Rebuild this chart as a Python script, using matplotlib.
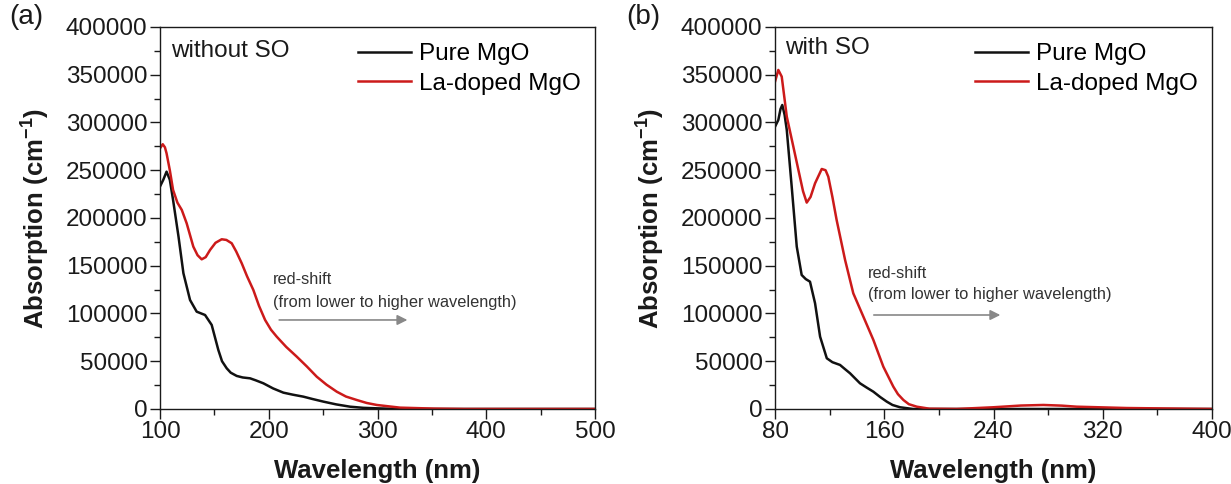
import matplotlib
matplotlib.use("Agg")
import matplotlib.pyplot as plt
from matplotlib.ticker import MultipleLocator

plt.rcParams['font.family'] = ['Liberation Sans', 'DejaVu Sans']
plt.rcParams['mathtext.fontset'] = 'custom'
plt.rcParams['mathtext.rm'] = 'Liberation Sans'
plt.rcParams['mathtext.bf'] = 'Liberation Sans:bold'

# ---- Panel (a): without SO ----
wl_a_pure = [100, 103, 106, 109, 112, 117, 121.5, 127.6, 133.7, 141.4, 147.5, 153.6, 157,
             161.3, 165, 170.5, 176, 182.8, 188, 195, 204, 213.4, 222, 231.8, 240, 250.2,
             262, 274.7, 287, 299, 320, 400, 500]
abs_a_pure = [233000, 240000, 248500, 240000, 218800, 180400, 142100, 114100, 101900, 98400,
              88000, 61800, 50000, 42600, 38000, 34600, 33000, 32100, 30000, 26900, 21500,
              17100, 15000, 12900, 10500, 7700, 4800, 2400, 1200, 700, 0, 0, 0]
wl_a_la = [100, 102.5, 104.5, 106, 109, 112, 116, 120, 124.5, 130.6, 134.5, 138.3, 142,
           146, 151, 156.7, 161, 165.9, 170, 175.1, 180, 185.8, 191, 196.6, 202, 207.3, 216,
           225.7, 235, 244.1, 253, 262.5, 271, 280.9, 290, 299.3, 320.7, 352, 380, 500]
abs_a_la = [273000, 277200, 274000, 267700, 250000, 229300, 216000, 208400, 194400, 170000,
            161000, 156700, 159000, 166500, 174000, 177700, 177000, 173500, 165000, 152600,
            139000, 124600, 108000, 93200, 83000, 75700, 65000, 54800, 44500, 33800, 25500,
            18100, 13000, 9400, 6300, 4200, 1400, 400, 0, 0]

# ---- Panel (b): with SO ----
wl_b_pure = [80, 82.4, 84, 85.3, 87, 88.6, 92.2, 95.9, 99.5, 102.5, 105.6, 109.3, 113,
             117.9, 122, 127.6, 131, 134.9, 142.2, 147, 152, 157, 161.8, 166, 171.5, 181,
             400]
abs_b_pure = [295600, 302600, 314000, 318300, 308000, 292100, 232800, 170000, 140300,
              136000, 133300, 110700, 75700, 53100, 49000, 46100, 42000, 37400, 26900,
              22500, 18100, 12500, 7700, 4200, 1800, 0, 0]
wl_b_la = [80, 82.4, 84.9, 88.6, 93.4, 97.1, 100.5, 103.2, 106, 109.3, 114.2, 117, 119,
           122, 125.1, 131.3, 137.3, 144.7, 152, 159.3, 166.6, 170, 174, 178, 183.8, 193,
           213, 239.9, 260, 276.5, 290, 300.9, 337.6, 400]
abs_b_la = [342800, 355000, 348000, 306100, 274700, 250300, 228000, 216100, 222000, 236300,
            251300, 250000, 243200, 222000, 197900, 156000, 121100, 96600, 72300, 44300,
            23400, 15500, 9400, 5000, 2400, 300, 0, 1800, 3600, 4200, 3500, 2400, 1000, 0]

series_labels = ["Pure MgO", "La-doped MgO"]
panel_titles = ["without SO", "with SO"]
panel_tags = ["(a)", "(b)"]
note_line1 = "red-shift"
note_line2 = "(from lower to higher wavelength)"
xlabel = "Wavelength (nm)"
ylabel = "Absorption (cm$^{\\mathregular{-1}}$)"

BLACK = "#111111"
RED = "#cc1a1a"
INK = "#1a1a1a"

fig = plt.figure(figsize=(12.31, 4.84), dpi=100)
ax_a = fig.add_axes([0.1300, 0.1550, 0.3534, 0.7893])
ax_b = fig.add_axes([0.6296, 0.1550, 0.3550, 0.7893])

def style(ax, xlim, xmaj, xmin):
    ax.set_xlim(*xlim)
    ax.set_ylim(0, 400000)
    ax.xaxis.set_major_locator(MultipleLocator(xmaj))
    ax.xaxis.set_minor_locator(MultipleLocator(xmin))
    ax.yaxis.set_major_locator(MultipleLocator(50000))
    ax.yaxis.set_minor_locator(MultipleLocator(25000))
    ax.tick_params(which='both', direction='out', top=False, right=False, labelsize=17.5,
                   colors=INK, width=1.0)
    ax.tick_params(which='major', length=7, pad=2)
    ax.tick_params(which='minor', length=4)
    for s in ax.spines.values():
        s.set_linewidth(1.0)
        s.set_color(INK)
    ax.set_xlabel(xlabel, fontsize=18.5, fontweight='bold', labelpad=11, color=INK)
    ax.set_ylabel(ylabel, fontsize=18.5, fontweight='bold', labelpad=11, color=INK)

def legend(ax):
    ax.legend(loc='upper right', fontsize=17.5, frameon=False, handlelength=2.2,
              handletextpad=0.3, labelspacing=0.3, borderaxespad=0.2,
              bbox_to_anchor=(1.0, 0.995))

# Panel (a)
ax_a.plot(wl_a_pure, abs_a_pure, color=BLACK, lw=1.8, label=series_labels[0])
ax_a.plot(wl_a_la, abs_a_la, color=RED, lw=1.8, label=series_labels[1])
style(ax_a, (100, 500), 100, 50)
ax_a.text(0.0246, 0.936, panel_titles[0], transform=ax_a.transAxes, fontsize=17.5,
          va='center', ha='left', color=INK)
ax_a.text(204, 136000, note_line1, fontsize=11.8, color='#333333', va='center')
ax_a.text(204, 112000, note_line2, fontsize=11.8, color='#333333', va='center')
ax_a.annotate("", xy=(330, 93200), xytext=(207, 93200),
              arrowprops=dict(arrowstyle='-|>', color='#888888', lw=1.2,
                              mutation_scale=15))
legend(ax_a)

# Panel (b)
ax_b.plot(wl_b_pure, abs_b_pure, color=BLACK, lw=1.8, label=series_labels[0])
ax_b.plot(wl_b_la, abs_b_la, color=RED, lw=1.8, label=series_labels[1])
style(ax_b, (80, 400), 80, 40)
ax_b.text(0.023, 0.944, panel_titles[1], transform=ax_b.transAxes, fontsize=17.5,
          va='center', ha='left', color=INK)
ax_b.text(148.3, 141400, note_line1, fontsize=11.8, color='#333333', va='center')
ax_b.text(148.3, 119400, note_line2, fontsize=11.8, color='#333333', va='center')
ax_b.annotate("", xy=(247, 98400), xytext=(150.3, 98400),
              arrowprops=dict(arrowstyle='-|>', color='#888888', lw=1.2,
                              mutation_scale=15))
legend(ax_b)

fig.text(9 / 1231, 1 - 17 / 484, panel_tags[0], fontsize=20, va='center', ha='left',
         color=INK)
fig.text(626 / 1231, 1 - 17 / 484, panel_tags[1], fontsize=20, va='center', ha='left',
         color=INK)

fig.savefig("out.png", dpi=100)
